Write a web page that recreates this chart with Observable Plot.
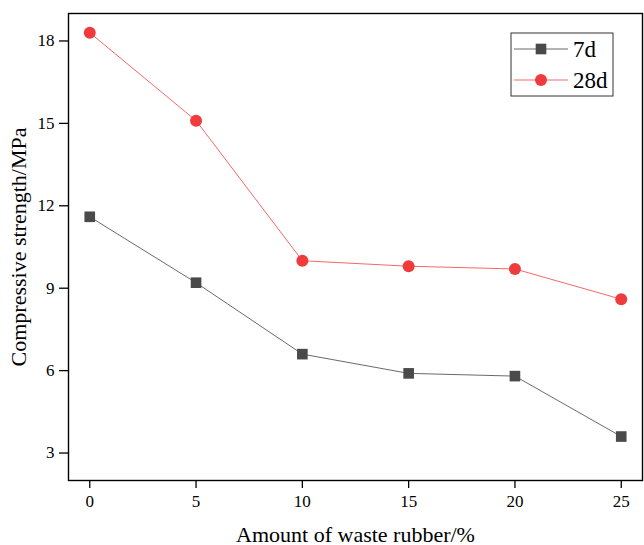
<!DOCTYPE html>
<html><head><meta charset="utf-8">
<script src="https://cdn.jsdelivr.net/npm/d3@7"></script>
<script src="https://cdn.jsdelivr.net/npm/@observablehq/plot@0.6"></script>
<style>
body{margin:0;background:#fff;}
#wrap{position:relative;width:644px;height:545px;}
#legend{position:absolute;left:0;top:0;}
</style></head>
<body><div id="wrap"></div>
<script>
const rubber = [0, 5, 10, 15, 20, 25];
const s7d = [11.6, 9.2, 6.6, 5.9, 5.8, 3.6];
const s28d = [18.3, 15.1, 10.0, 9.8, 9.7, 8.6];
const seriesNames = ["7d", "28d"];
const xTicks = [0, 5, 10, 15, 20, 25];
const yTicks = [3, 6, 9, 12, 15, 18];

const data = [
  ...rubber.map((x, i) => ({x, y: s7d[i], s: "7d"})),
  ...rubber.map((x, i) => ({x, y: s28d[i], s: "28d"}))
];
const lineColor = {"7d": "#6a6a6a", "28d": "#f26a6a"};
const dotColor = {"7d": "#4a4a4a", "28d": "#ef3b3b"};
const symbolOf = {"7d": "square", "28d": "circle"};

const font = "'Liberation Serif','Times New Roman',serif";
const chart = Plot.plot({
  width: 644, height: 545,
  marginLeft: 68, marginRight: 2, marginTop: 13, marginBottom: 65,
  style: {fontFamily: font, fontSize: "17px", color: "#000", background: "#fff"},
  x: {domain: [-1, 26], label: null},
  y: {domain: [2, 19], label: null},
  marks: [
    Plot.axisX({ticks: xTicks, tickSize: 8, tickPadding: 6, fontSize: 17, strokeWidth: 1.3}),
    Plot.axisY({ticks: yTicks, tickSize: 9, tickPadding: 5, fontSize: 17, strokeWidth: 1.3}),
    Plot.frame({stroke: "#000", strokeWidth: 1.4}),
    Plot.line(data.filter(d => d.s === "7d"), {x: "x", y: "y", stroke: lineColor["7d"], strokeWidth: 1}),
    Plot.line(data.filter(d => d.s === "28d"), {x: "x", y: "y", stroke: lineColor["28d"], strokeWidth: 1}),
    Plot.dot(data.filter(d => d.s === "7d"), {x: "x", y: "y", symbol: "square", r: 6, fill: dotColor["7d"], stroke: "none"}),
    Plot.dot(data.filter(d => d.s === "28d"), {x: "x", y: "y", symbol: "circle", r: 6, fill: dotColor["28d"], stroke: "none"}),
    Plot.text(["Amount of waste rubber/%"], {frameAnchor: "bottom", dy: 61, fontSize: 22}),
    Plot.text(["Compressive strength/MPa"], {frameAnchor: "left", dx: -50, rotate: -90, textAnchor: "middle", fontSize: 22})
  ]
});
document.getElementById("wrap").appendChild(chart);

// legend overlay
const lg = d3.select("#wrap").append("svg").attr("id", "legend")
  .attr("width", 644).attr("height", 545);
lg.append("rect").attr("x", 511).attr("y", 33).attr("width", 102).attr("height", 63)
  .attr("fill", "#fff").attr("stroke", "#333").attr("stroke-width", 1);
seriesNames.forEach((name, i) => {
  const cy = 49 + i * 31;
  lg.append("line").attr("x1", 514).attr("x2", 568).attr("y1", cy).attr("y2", cy)
    .attr("stroke", lineColor[name]).attr("stroke-width", 1);
  lg.append("path").attr("transform", `translate(541,${cy})`)
    .attr("d", d3.symbol(symbolOf[name] === "square" ? d3.symbolSquare : d3.symbolCircle, Math.PI * 36)())
    .attr("fill", dotColor[name]);
  lg.append("text").attr("x", 573).attr("y", cy).attr("dy", "0.35em")
    .attr("font-family", font).attr("font-size", 23).text(name);
});
</script></body></html>
